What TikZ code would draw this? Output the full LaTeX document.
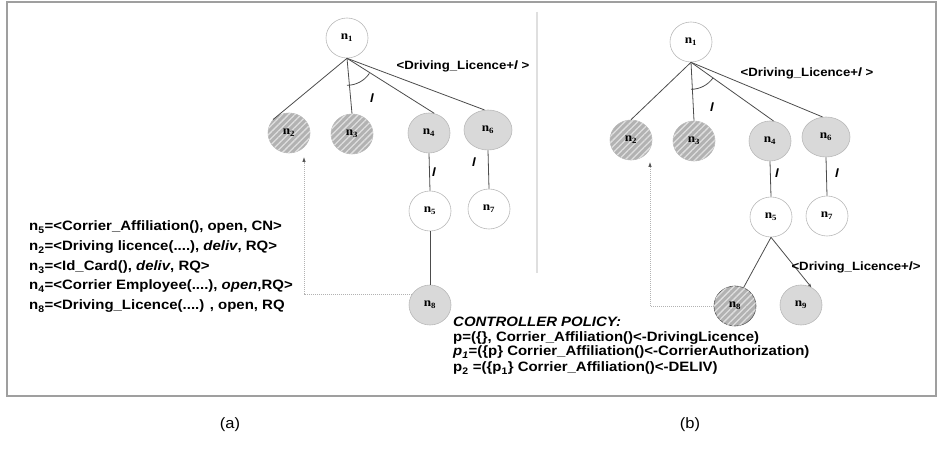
\documentclass[tikz,border=0pt]{standalone}
\usepackage{fontspec}
\setmainfont[FakeStretch=1.1]{Liberation Sans}
\newfontfamily\nodefont[FakeStretch=1.1]{Liberation Serif}
\usetikzlibrary{patterns,patterns.meta,shapes.geometric,arrows.meta}

\tikzset{
  x=1pt, y=1pt,
  tnode/.style={ellipse, draw=gray!55, line width=0.6pt, minimum width=42pt,
    minimum height=40pt, inner sep=0pt,
    font=\nodefont\bfseries\fontsize{12}{12}\selectfont},
  wnode/.style={tnode, fill=white},
  gnode/.style={tnode, fill=gray!30},
  hnode/.style={tnode, fill=gray!60,
    postaction={pattern={Lines[angle=45,distance=4.5pt,line width=1.3pt]}, pattern color=gray!25}},
  wide/.style={minimum width=48pt},
  edge/.style={draw=black!70, line width=0.8pt},
  ptr/.style={draw=gray!60, line width=0.7pt, dash pattern=on 1pt off 1pt,
    -{Latex[length=5pt,width=3.5pt,color=black!70,fill=black!70]}},
  lbl/.style={font=\bfseries\fontsize{12}{12}\selectfont, inner sep=0pt},
  ltr/.style={font=\bfseries\itshape\fontsize{12}{12}\selectfont, inner sep=0pt},
  txt/.style={font=\bfseries\fontsize{13.6}{13.6}\selectfont, anchor=base west, inner sep=0pt},
  captext/.style={font=\fontsize{15}{15}\selectfont, inner sep=0pt}
}

\begin{document}
\begin{tikzpicture}
\useasboundingbox (0,0) rectangle (938,-454);

% outer frame and divider
\draw[gray!75, line width=1.6pt] (7,-2) rectangle (936,-396);
\draw[gray!25, line width=1.5pt] (537,-12) -- (537,-273);

% ---------------- tree (a) ----------------
\node[wnode] (a1) at (347,-38) {n\textsubscript{1}};
\node[hnode] (a2) at (289,-133) {n\textsubscript{2}};
\node[hnode] (a3) at (352,-134) {n\textsubscript{3}};
\node[gnode] (a4) at (429,-133) {n\textsubscript{4}};
\node[gnode, wide] (a6) at (488,-130) {n\textsubscript{6}};
\node[wnode] (a5) at (430,-211) {n\textsubscript{5}};
\node[wnode] (a7) at (489,-209) {n\textsubscript{7}};
\node[gnode] (a8) at (430,-305) {n\textsubscript{8}};

\draw[edge] (a1.south) -- (a2.140);
\draw[edge] (a1.south) -- (a3.north);
\draw[edge] (a1.south) -- (a4.75);
\draw[edge] (a1.south) -- (a6.100);
\draw[edge] (a4.south) -- (a5.north);
\draw[edge] (a6.south) -- (a7.north);
\draw[edge] (a5.south) -- (a8.north);
\draw[edge] ([shift={(-90:27pt)}]a1.south) arc[start angle=-90, end angle=-34, radius=27pt];

\node[ltr] (al1) at (372,-98) {l};
\node[ltr] (al2) at (434,-172) {l};
\node[ltr] (al3) at (474,-162) {l};
\node[lbl] (ad) at (463,-66) {<Driving\_Licence+\textit{l} >};

\coordinate (pa) at (304,-157);
\draw[ptr] (a8.148) -| (pa);

\node[txt] (t1) at (29,-231) {n\textsubscript{5}=<Corrier\_Affiliation(), open, CN>};
\node[txt] (t2) at (29,-251) {n\textsubscript{2}=<Driving licence(....), \textit{deliv}, RQ>};
\node[txt] (t3) at (29,-271) {n\textsubscript{3}=<Id\_Card(), \textit{deliv}, RQ>};
\node[txt] (t4) at (29,-290) {n\textsubscript{4}=<Corrier Employee(....), \textit{open},RQ>};
\node[txt] (t5) at (29,-310) {n\textsubscript{8}=<Driving\_Licence(....) , open, RQ};

% ---------------- tree (b) ----------------
\node[wnode] (b1) at (691,-42) {n\textsubscript{1}};
\node[hnode] (b2) at (631,-140) {n\textsubscript{2}};
\node[hnode] (b3) at (694,-141) {n\textsubscript{3}};
\node[gnode] (b4) at (770,-141) {n\textsubscript{4}};
\node[gnode, wide] (b6) at (826,-137) {n\textsubscript{6}};
\node[wnode] (b5) at (771,-217) {n\textsubscript{5}};
\node[wnode] (b7) at (827,-216) {n\textsubscript{7}};
\node[hnode, draw=black!65] (b8) at (735,-306) {n\textsubscript{8}};
\node[gnode] (b9) at (801,-305) {n\textsubscript{9}};

\draw[edge] (b1.south) -- (b2.north);
\draw[edge] (b1.south) -- (b3.north);
\draw[edge] (b1.south) -- (b4.80);
\draw[edge] (b1.south) -- (b6.100);
\draw[edge] (b4.south) -- (b5.north);
\draw[edge] (b6.south) -- (b7.north);
\draw[edge] (b5.south) -- (b8.65);
\draw[edge, -{Stealth[length=4pt,width=3pt]}] (b5.south) -- (b9.60);
\draw[edge] ([shift={(-90:27pt)}]b1.south) arc[start angle=-90, end angle=-35, radius=27pt];

\node[ltr] (bl1) at (712,-107) {l};
\node[ltr] (bl2) at (777,-173) {l};
\node[ltr] (bl3) at (837,-173) {l};
\node[lbl] (bd) at (807,-73) {<Driving\_Licence+\textit{l} >};
\node[lbl] (be) at (856,-267) {<Driving\_Licence+\textit{l}>};

\coordinate (pb) at (650,-162);
\draw[ptr] (b8.west) -| (pb);

\node[txt, font=\bfseries\itshape\fontsize{13.6}{13.6}\selectfont] (c0) at (453,-326.5) {CONTROLLER POLICY:};
\node[txt] (c1) at (453,-341.5) {p=(\{\}, Corrier\_Affiliation()<-DrivingLicence)};
\node[txt] (c2) at (453,-356) {\textit{p\textsubscript{1}}=(\{p\} Corrier\_Affiliation()<-CorrierAuthorization)};
\node[txt] (c3) at (453,-372) {p\textsubscript{2} =(\{p\textsubscript{1}\} Corrier\_Affiliation()<-DELIV)};

% captions
\node[captext] (capa) at (230,-425) {(a)};
\node[captext] (capb) at (690,-425) {(b)};
\end{tikzpicture}
\end{document}
